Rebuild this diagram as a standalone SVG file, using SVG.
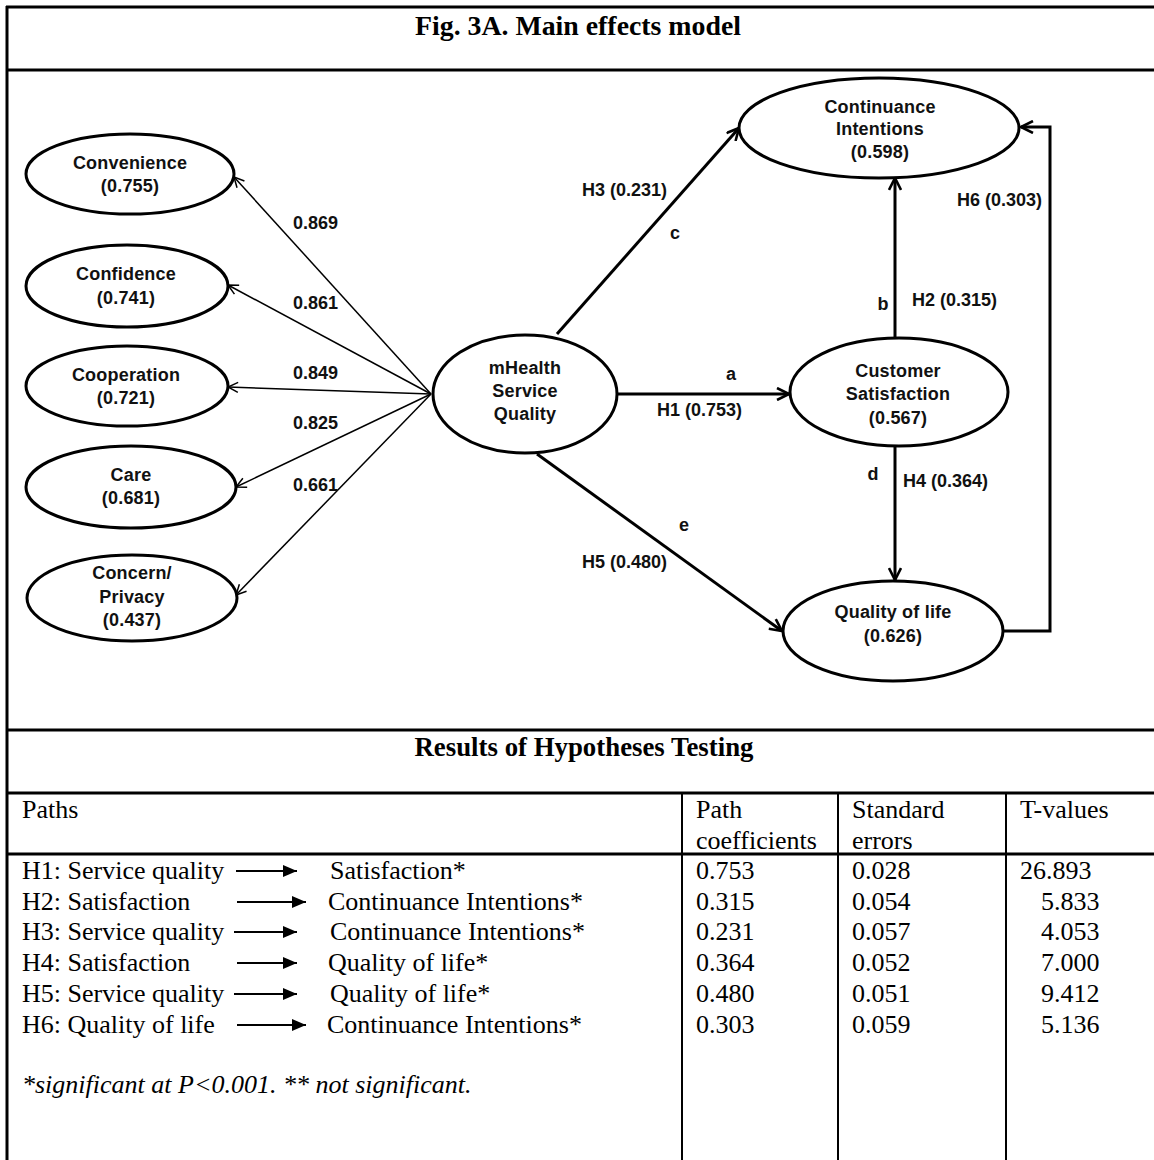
<svg xmlns="http://www.w3.org/2000/svg" width="1154" height="1160" viewBox="0 0 1154 1160">
<style>
.frame{stroke:#000;stroke-width:3;fill:none}
.cell{stroke:#000;stroke-width:2;fill:none}
.node{fill:#fff;stroke:#000;stroke-width:3}
.nt{font-family:"Liberation Sans",Arial,sans-serif;font-weight:bold;font-size:18px;letter-spacing:0.2px;text-anchor:middle;fill:#111}
.lbl{font-family:"Liberation Sans",Arial,sans-serif;font-weight:bold;font-size:18px;fill:#111}
.lblm{font-family:"Liberation Sans",Arial,sans-serif;font-weight:bold;font-size:18px;fill:#111;text-anchor:middle}
.load{stroke:#000;stroke-width:1.5;fill:none;marker-end:url(#thin)}
.path{stroke:#000;stroke-width:3;fill:none;marker-end:url(#thick)}
.hd{font-family:"Liberation Serif","Times New Roman",serif;font-weight:bold;font-size:27px;text-anchor:middle}
.tt{font-family:"Liberation Serif","Times New Roman",serif;font-size:26px}
.ti{font-family:"Liberation Serif","Times New Roman",serif;font-size:26px;font-style:italic}
.ta{stroke:#000;stroke-width:2;marker-end:url(#tri)}
</style>
<defs>
<marker id="thin" viewBox="0 0 12 12" refX="11" refY="6" markerWidth="12" markerHeight="12" markerUnits="userSpaceOnUse" orient="auto"><path d="M1,1 L11,6 L1,11" fill="none" stroke="#000" stroke-width="1.5"/></marker>
<marker id="thick" viewBox="0 0 14 14" refX="13" refY="7" markerWidth="14" markerHeight="14" markerUnits="userSpaceOnUse" orient="auto"><path d="M1,1 L13,7 L1,13" fill="none" stroke="#000" stroke-width="2.6"/></marker>
<marker id="tri" viewBox="0 0 14 12" refX="14" refY="6" markerWidth="14" markerHeight="12" markerUnits="userSpaceOnUse" orient="auto"><path d="M0,0 L14,6 L0,12 z" fill="#000"/></marker>
</defs>
<rect width="1154" height="1160" fill="#fff"/>

<g id="frame">
<line class="frame" x1="7" y1="6" x2="7" y2="1160"/>
<line class="frame" x1="6" y1="7" x2="1154" y2="7"/>
<line class="frame" x1="6" y1="70" x2="1154" y2="70"/>
<line class="frame" x1="6" y1="730" x2="1154" y2="730"/>
<line class="frame" x1="6" y1="793" x2="1154" y2="793"/>
<line class="frame" x1="6" y1="854" x2="1154" y2="854"/>
<line class="cell" x1="682" y1="793" x2="682" y2="1160"/>
<line class="cell" x1="838" y1="793" x2="838" y2="1160"/>
<line class="cell" x1="1006" y1="793" x2="1006" y2="1160"/>
<text class="hd" x="578" y="35" textLength="326" lengthAdjust="spacingAndGlyphs">Fig. 3A. Main effects model</text>
<text class="hd" x="584" y="756" textLength="339" lengthAdjust="spacingAndGlyphs">Results of Hypotheses Testing</text>
</g>

<g id="connectors">
<line class="load" x1="431" y1="394" x2="234" y2="177"/>
<line class="load" x1="431" y1="394" x2="228" y2="285"/>
<line class="load" x1="431" y1="394" x2="228" y2="387"/>
<line class="load" x1="431" y1="394" x2="236" y2="487"/>
<line class="load" x1="431" y1="394" x2="236" y2="595"/>
<line class="path" x1="557" y1="334" x2="739" y2="128"/>
<line class="path" x1="617" y1="394" x2="789" y2="394"/>
<line class="path" x1="537" y1="454" x2="782" y2="631"/>
<line class="path" x1="895" y1="338" x2="895" y2="178"/>
<line class="path" x1="895" y1="446" x2="895" y2="580"/>
<polyline class="path" points="1002,631 1050,631 1050,127 1021,127"/>
<text class="lbl" x="293" y="229">0.869</text>
<text class="lbl" x="293" y="309">0.861</text>
<text class="lbl" x="293" y="379">0.849</text>
<text class="lbl" x="293" y="429">0.825</text>
<text class="lbl" x="293" y="491">0.661</text>
<text class="lbl" x="582" y="196">H3 (0.231)</text>
<text class="lblm" x="675" y="239">c</text>
<text class="lblm" x="731" y="380">a</text>
<text class="lbl" x="657" y="416">H1 (0.753)</text>
<text class="lblm" x="684" y="531">e</text>
<text class="lbl" x="582" y="568">H5 (0.480)</text>
<text class="lblm" x="883" y="310">b</text>
<text class="lbl" x="912" y="306">H2 (0.315)</text>
<text class="lblm" x="873" y="480">d</text>
<text class="lbl" x="903" y="487">H4 (0.364)</text>
<text class="lbl" x="957" y="206">H6 (0.303)</text>
</g>

<g id="convenience">
<ellipse class="node" cx="130" cy="174" rx="104" ry="40"/>
<text class="nt" x="130" y="169">Convenience</text>
<text class="nt" x="130" y="192">(0.755)</text>
</g>
<g id="confidence">
<ellipse class="node" cx="127" cy="286" rx="101" ry="41"/>
<text class="nt" x="126" y="280">Confidence</text>
<text class="nt" x="126" y="304">(0.741)</text>
</g>
<g id="cooperation">
<ellipse class="node" cx="127" cy="386" rx="101" ry="40"/>
<text class="nt" x="126" y="381">Cooperation</text>
<text class="nt" x="126" y="404">(0.721)</text>
</g>
<g id="care">
<ellipse class="node" cx="131" cy="487" rx="105" ry="41"/>
<text class="nt" x="131" y="481">Care</text>
<text class="nt" x="131" y="504">(0.681)</text>
</g>
<g id="concern">
<ellipse class="node" cx="132" cy="598" rx="105" ry="43"/>
<text class="nt" x="132" y="579">Concern/</text>
<text class="nt" x="132" y="603">Privacy</text>
<text class="nt" x="132" y="626">(0.437)</text>
</g>
<g id="mhealth">
<ellipse class="node" cx="525" cy="394" rx="92" ry="59"/>
<text class="nt" x="525" y="374">mHealth</text>
<text class="nt" x="525" y="397">Service</text>
<text class="nt" x="525" y="420">Quality</text>
</g>
<g id="continuance">
<ellipse class="node" cx="879" cy="128" rx="140" ry="50"/>
<text class="nt" x="880" y="113">Continuance</text>
<text class="nt" x="880" y="135">Intentions</text>
<text class="nt" x="880" y="158">(0.598)</text>
</g>
<g id="satisfaction">
<ellipse class="node" cx="899" cy="392" rx="109" ry="54"/>
<text class="nt" x="898" y="377">Customer</text>
<text class="nt" x="898" y="400">Satisfaction</text>
<text class="nt" x="898" y="424">(0.567)</text>
</g>
<g id="qol">
<ellipse class="node" cx="893" cy="631" rx="110" ry="50"/>
<text class="nt" x="893" y="618">Quality of life</text>
<text class="nt" x="893" y="642">(0.626)</text>
</g>

<g id="table">
<text class="tt" x="22" y="818">Paths</text>
<text class="tt" x="696" y="818">Path</text>
<text class="tt" x="696" y="849">coefficients</text>
<text class="tt" x="852" y="818">Standard</text>
<text class="tt" x="852" y="849">errors</text>
<text class="tt" x="1020" y="818">T-values</text>

<text class="tt" x="22" y="879">H1: Service quality</text>
<line class="ta" x1="236" y1="871" x2="297" y2="871"/>
<text class="tt" x="330" y="879">Satisfaction*</text>
<text class="tt" x="22" y="910">H2: Satisfaction</text>
<line class="ta" x1="237" y1="902" x2="306" y2="902"/>
<text class="tt" x="328" y="910">Continuance Intentions*</text>
<text class="tt" x="22" y="940">H3: Service quality</text>
<line class="ta" x1="234" y1="932" x2="297" y2="932"/>
<text class="tt" x="330" y="940">Continuance Intentions*</text>
<text class="tt" x="22" y="971">H4: Satisfaction</text>
<line class="ta" x1="237" y1="963" x2="297" y2="963"/>
<text class="tt" x="328" y="971">Quality of life*</text>
<text class="tt" x="22" y="1002">H5: Service quality</text>
<line class="ta" x1="234" y1="994" x2="297" y2="994"/>
<text class="tt" x="330" y="1002">Quality of life*</text>
<text class="tt" x="22" y="1033">H6: Quality of life</text>
<line class="ta" x1="237" y1="1025" x2="306" y2="1025"/>
<text class="tt" x="327" y="1033">Continuance Intentions*</text>
<text class="ti" x="22" y="1093">*significant at P&lt;0.001. ** not significant.</text>

<text class="tt" x="696" y="879">0.753</text>
<text class="tt" x="696" y="910">0.315</text>
<text class="tt" x="696" y="940">0.231</text>
<text class="tt" x="696" y="971">0.364</text>
<text class="tt" x="696" y="1002">0.480</text>
<text class="tt" x="696" y="1033">0.303</text>
<text class="tt" x="852" y="879">0.028</text>
<text class="tt" x="852" y="910">0.054</text>
<text class="tt" x="852" y="940">0.057</text>
<text class="tt" x="852" y="971">0.052</text>
<text class="tt" x="852" y="1002">0.051</text>
<text class="tt" x="852" y="1033">0.059</text>
<text class="tt" x="1020" y="879">26.893</text>
<text class="tt" x="1041" y="910">5.833</text>
<text class="tt" x="1041" y="940">4.053</text>
<text class="tt" x="1041" y="971">7.000</text>
<text class="tt" x="1041" y="1002">9.412</text>
<text class="tt" x="1041" y="1033">5.136</text>
</g>
</svg>
